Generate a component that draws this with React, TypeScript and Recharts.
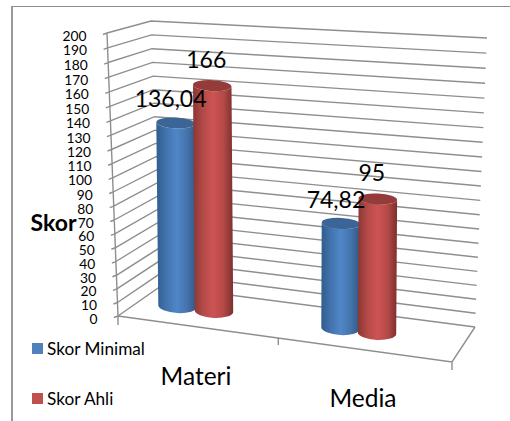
import React from "react";
import { BarChart, Bar, XAxis, YAxis, CartesianGrid, Legend, LabelList, Label } from "recharts";

// Chart values
const categories = ["Materi", "Media"];
const skorMinimal = [136.04, 74.82];
const skorAhli = [166, 95];
const yTicks = [0, 10, 20, 30, 40, 50, 60, 70, 80, 90, 100, 110, 120, 130, 140, 150, 160, 170, 180, 190, 200];
const rows = categories.map((name, i) => ({ name, skorMinimal: skorMinimal[i], skorAhli: skorAhli[i] }));

const BLUE = "#4f81bd";
const RED = "#c0504d";
const FONT = "Lato, 'Noto Sans', sans-serif";
const GRID = "#8e8e8e";

// Flat plot rectangle that Recharts lays out; everything is projected from it into the 3D box.
const MARGIN = { left: 99, right: 60, top: 30, bottom: 59 };
const WIDTH = 510;
const HEIGHT = 421;
const L = MARGIN.left + 1;
const R = WIDTH - MARGIN.right;
const T = MARGIN.top;
const B = HEIGHT - MARGIN.bottom - 1;
const GAP = -2;

type P = [number, number];
const lerp = (a: P, b: P, t: number): P => [a[0] + (b[0] - a[0]) * t, a[1] + (b[1] - a[1]) * t];
const str = (p: P) => `${p[0].toFixed(1)} ${p[1].toFixed(1)}`;

// Corners of the box
const frontLeftFloor: P = [118, 316];
const frontLeftTop: P = [107, 33];
const backLeftFloor: P = [161, 286];
const backLeftTop: P = [151, 21];
const backRightFloor: P = [475, 327];
const backRightTop: P = [487, 38];
const frontRightFloor: P = [452, 362];

// Plane the cylinders stand in
const barFloorL: P = [114.5, 297.5];
const barFloorR: P = [440.5, 341.5];
const barTopL: P = [110, 32.5];
const barTopR: P = [444, 55.5];

// Slight foreshortening of the value axis on the walls
const warp = (v: number) => (v * (1 - 0.047)) / (1 - 0.047 * v);
const wall = (a: P, b: P, v: number) => lerp(a, b, warp(v));
const barPoint = (u: number, v: number) => lerp(lerp(barFloorL, barFloorR, u), lerp(barTopL, barTopR, u), v);
const plotU = (x: number) => (x - L) / (R - L);
const plotV = (y: number) => (B - y) / (B - T);

function GridLine(props: any) {
  const v = plotV(props.y1);
  const a = wall(frontLeftFloor, frontLeftTop, v);
  const b = wall(backLeftFloor, backLeftTop, v);
  const c = wall(backRightFloor, backRightTop, v);
  const isFloor = v < 0.001;
  const isTop = v > 0.999;
  return (
    <g key={props.key}>
      <path d={`M${str(a)} L${str(b)} L${str(c)}`} fill="none" stroke={GRID} strokeWidth={1.4} />
      {isFloor && (
        <path
          d={`M${str(frontLeftFloor)} L${str(frontRightFloor)} L${str(backRightFloor)}
              M${frontLeftFloor[0]} ${frontLeftFloor[1]} v9
              M${str(frontRightFloor)} v8`}
          fill="none"
          stroke={GRID}
          strokeWidth={1.4}
        />
      )}
      {isTop && <path d={`M${str(frontLeftTop)} L${str(frontLeftFloor)}`} stroke={GRID} strokeWidth={1.4} fill="none" />}
    </g>
  );
}

function YTick(props: any) {
  const v = plotV(props.y);
  const p = wall(frontLeftFloor, frontLeftTop, v);
  return (
    <g>
      <path d={`M${p[0] - 4} ${p[1] + 1.5} L${p[0]} ${p[1]}`} stroke={GRID} strokeWidth={1.4} fill="none" />
      <text x={p[0] - 20.5} y={p[1] + 2} textAnchor="end" dominantBaseline="central" fontSize={13.8} fontFamily={FONT} fill="#000">
        {props.payload.value}
      </text>
    </g>
  );
}

function XTick(props: any) {
  const u = plotU(props.x);
  const label = lerp([112.5, 364], [446.5, 408], u);
  const mark = lerp(frontLeftFloor, frontRightFloor, 0.48);
  return (
    <g>
      {props.index === 0 && <path d={`M${str(mark)} v7`} stroke={GRID} strokeWidth={1.4} fill="none" />}
      <text x={label[0]} y={label[1]} textAnchor="middle" dominantBaseline="central" fontSize={24.5} fontFamily={FONT} fill="#000">
        {props.payload.value}
      </text>
    </g>
  );
}

function Cylinder(props: any) {
  const { x, y, width, index, fill, dataKey } = props;
  const uL = plotU(x);
  const uR = plotU(x + width);
  const v = plotV(y);
  const TILT = 0.05;
  const topMid = barPoint((uL + uR) / 2, v);
  const botMid = barPoint((uL + uR) / 2, 0);
  const floorL = barPoint(uL, 0);
  const floorR = barPoint(uR, 0);
  const rx = Math.hypot(floorR[0] - floorL[0], floorR[1] - floorL[1]) / 2;
  const tl: P = [topMid[0] - rx, topMid[1] - rx * TILT];
  const tr: P = [topMid[0] + rx, topMid[1] + rx * TILT];
  const bl: P = [botMid[0] - rx, botMid[1] - rx * TILT];
  const br: P = [botMid[0] + rx, botMid[1] + rx * TILT];
  const angle = (Math.atan(TILT) * 180) / Math.PI;
  const isBlue = fill === BLUE;
  const id = `body-${dataKey}-${index}`;
  return (
    <g>
      <defs>
        <linearGradient id={id} x1="0" x2="1" y1="0" y2="0">
          <stop offset="0" stopColor={isBlue ? "#315c8d" : "#8a3634"} />
          <stop offset="0.25" stopColor={isBlue ? "#4274ae" : "#b34a48"} />
          <stop offset="0.5" stopColor={isBlue ? "#5086c8" : "#cd5452"} />
          <stop offset="0.75" stopColor={isBlue ? "#4474ac" : "#b54a48"} />
          <stop offset="1" stopColor={isBlue ? "#2f5785" : "#7d2f2d"} />
        </linearGradient>
      </defs>
      <path
        d={`M${str(tl)} L${str(bl)} A${rx} 7 ${angle} 0 0 ${str(br)} L${str(tr)} A${rx} 5.5 ${angle} 0 1 ${str(tl)} Z`}
        fill={`url(#${id})`}
      />
      <ellipse
        cx={topMid[0]}
        cy={topMid[1]}
        rx={rx}
        ry={5.5}
        transform={`rotate(${angle} ${topMid[0]} ${topMid[1]})`}
        fill={isBlue ? "#3b6596" : "#953c3a"}
      />
    </g>
  );
}

// Drawn from the last series so that both sets of value labels sit above every cylinder.
const valueLabel = (seriesShift: number, dx: number, dy: number) => (props: any) => {
  const box = props.viewBox ?? props;
  const cx = box.x + box.width / 2 - seriesShift * (box.width + GAP);
  const cap = barPoint(plotU(cx), Number(props.value) / 200);
  return (
    <text
      x={cap[0] + dx}
      y={cap[1] + dy}
      textAnchor="middle"
      dominantBaseline="central"
      fontSize={23}
      fontFamily={FONT}
      fill="#000"
    >
      {String(props.value).replace(".", ",")}
    </text>
  );
};

function LegendRows(props: any) {
  return (
    <div style={{ display: "flex", flexDirection: "column", gap: 30, fontFamily: FONT, fontSize: 17.2, color: "#000" }}>
      {(props.payload ?? []).map((entry: any) => (
        <div key={entry.value} style={{ display: "flex", alignItems: "center", height: 20 }}>
          <span style={{ width: 11, height: 11, background: entry.color, marginRight: 4 }} />
          <span>{entry.value}</span>
        </div>
      ))}
    </div>
  );
}

export default function App() {
  return (
    <div style={{ position: "absolute", left: 0, top: 0, width: WIDTH, height: HEIGHT, overflow: "hidden", background: "#fff" }}>
      <div
        style={{
          position: "absolute",
          left: 11,
          top: 6,
          width: WIDTH,
          height: HEIGHT,
          borderLeft: "2px solid #999",
          borderTop: "1.5px solid #8c8c8c",
        }}
      />
      <BarChart width={WIDTH} height={HEIGHT} data={rows} margin={MARGIN} barCategoryGap="27%" barGap={GAP}>
        <CartesianGrid vertical={false} horizontal={GridLine as any} />
        <XAxis dataKey="name" height={1} axisLine={false} tickLine={false} interval={0} tick={XTick as any} />
        <YAxis
          width={1}
          domain={[0, 200]}
          ticks={yTicks}
          interval={0}
          axisLine={false}
          tickLine={false}
          tick={YTick as any}
        >
          <Label value="Skor" position="center" dx={-46} dy={27.5} fontSize={23} fontWeight={700} fontFamily={FONT} fill="#000" />
        </YAxis>
        <Legend
          layout="vertical"
          align="center"
          verticalAlign="middle"
          itemSorter={null as any}
          content={LegendRows as any}
          wrapperStyle={{ left: 32, top: 338, width: 130, height: 70 }}
        />
        <Bar dataKey="skorMinimal" name="Skor Minimal" fill={BLUE} shape={Cylinder as any} isAnimationActive={false} />
        <Bar dataKey="skorAhli" name="Skor Ahli" fill={RED} shape={Cylinder as any} isAnimationActive={false}>
          <LabelList dataKey="skorMinimal" content={valueLabel(1, -5, -24.5) as any} />
          <LabelList dataKey="skorAhli" content={valueLabel(0, -6, -27) as any} />
        </Bar>
      </BarChart>
    </div>
  );
}
